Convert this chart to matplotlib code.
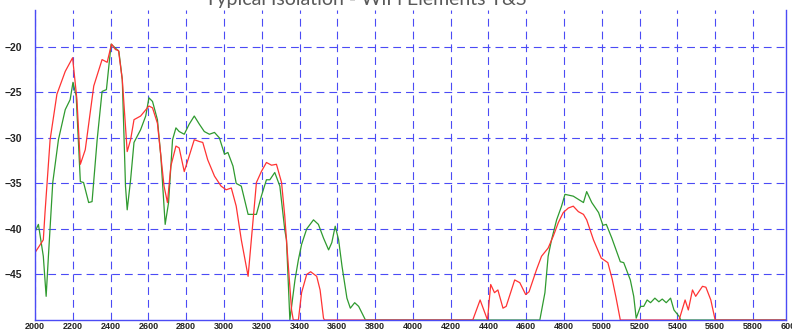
import numpy as np
import matplotlib.pyplot as plt

# isolation curves (MHz, dB)
red_freq = [2000, 2044, 2053, 2080, 2116, 2160, 2199, 2222, 2240, 2266,
            2311, 2355, 2382, 2405, 2426, 2442, 2462, 2488, 2506, 2524,
            2559, 2603, 2622, 2648, 2683, 2701, 2719, 2746, 2763, 2790,
            2816, 2843, 2870, 2888, 2914, 2950, 2985, 3012, 3039, 3065,
            3092, 3128, 3145, 3172, 3198, 3225, 3252, 3278, 3305, 3322,
            3341, 3358, 3367, 3394, 3411, 3438, 3459, 3491, 3509, 3527,
            3532, 4317, 4356, 4395, 4412, 4432, 4450, 4477, 4494, 4539,
            4566, 4597, 4615, 4654, 4681, 4716, 4743, 4770, 4796, 4823,
            4849, 4876, 4903, 4920, 4956, 4997, 5032, 5055, 5075, 5098,
            5409, 5441, 5458, 5480, 5497, 5533, 5551, 5577, 5600, 6000]
red_db = [-42.6, -41.2, -38.2, -30.2, -25.2, -22.7, -21.2, -25.8, -32.9, -31.3,
          -24.3, -21.4, -21.7, -19.7, -20.3, -20.4, -23.6, -31.5, -30.2, -28.0,
          -27.6, -26.5, -26.7, -28.4, -35.3, -37.1, -33.1, -30.9, -31.1, -33.7,
          -32.0, -30.2, -30.4, -30.5, -32.4, -34.2, -35.3, -35.7, -35.5, -37.5,
          -41.2, -45.2, -41.2, -34.9, -33.7, -32.7, -33.0, -32.9, -34.9, -38.6,
          -44.1, -48.9, -50, -50, -47.0, -45.0, -44.7, -45.2, -46.7, -49.8,
          -50, -50, -47.8, -50, -46.1, -47.0, -46.7, -48.7, -48.5, -45.6,
          -45.9, -47.2, -46.9, -44.5, -43.0, -42.1, -40.8, -39.3, -38.2, -37.7,
          -37.5, -38.1, -38.4, -39.0, -41.2, -43.2, -43.7, -45.5, -47.5, -50,
          -50, -47.8, -48.9, -46.7, -47.4, -46.3, -46.4, -47.8, -50, -50]

green_freq = [2000, 2018, 2044, 2059, 2071, 2094, 2124, 2160, 2186, 2201,
              2218, 2240, 2257, 2284, 2302, 2329, 2355, 2378, 2403, 2444,
              2462, 2479, 2488, 2506, 2524, 2559, 2586, 2603, 2622, 2648,
              2666, 2689, 2707, 2728, 2746, 2763, 2790, 2816, 2843, 2870,
              2896, 2923, 2950, 2976, 3003, 3021, 3048, 3065, 3092, 3128,
              3172, 3198, 3225, 3243, 3269, 3296, 3322, 3331, 3349, 3376,
              3394, 3411, 3438, 3474, 3500, 3527, 3554, 3571, 3589, 3607,
              3625, 3651, 3669, 3692, 3713, 3749, 4672, 4699, 4716, 4734,
              4761, 4787, 4805, 4849, 4903, 4920, 4947, 4983, 5006, 5024,
              5053, 5098, 5116, 5151, 5169, 5182, 5205, 5222, 5240, 5258,
              5281, 5302, 5320, 5341, 5364, 5382, 5409, 5418, 6000]
green_db = [-40.3, -39.5, -43.0, -47.4, -43.0, -34.9, -30.2, -26.9, -25.8, -23.9,
            -25.4, -34.8, -34.9, -37.1, -37.0, -30.2, -24.9, -24.7, -19.7, -20.5,
            -23.6, -35.3, -37.9, -34.6, -30.5, -29.1, -27.6, -25.6, -26.0, -28.0,
            -32.0, -39.5, -37.1, -30.2, -28.9, -29.3, -29.6, -28.5, -27.6, -28.5,
            -29.3, -29.6, -29.4, -30.0, -31.8, -31.6, -33.1, -35.0, -35.3, -38.4,
            -38.4, -36.4, -34.6, -34.6, -33.8, -35.3, -40.1, -41.2, -50, -45.6,
            -43.4, -41.7, -40.0, -39.0, -39.5, -41.0, -42.3, -41.5, -39.7, -41.2,
            -44.1, -47.6, -48.7, -48.1, -48.5, -50, -50, -47.0, -43.0, -41.2,
            -39.0, -37.5, -36.2, -36.4, -37.1, -35.9, -37.1, -38.2, -39.6, -39.5,
            -41.0, -43.6, -43.7, -45.6, -47.4, -49.8, -48.5, -48.5, -47.8, -48.1,
            -47.6, -48.0, -47.7, -48.1, -47.6, -48.9, -49.6, -50, -50]

x_ticks = list(range(2000, 6000, 200))
y_ticks = [-45, -40, -35, -30, -25, -20]
title = "Typical Isolation - WiFi Elements T&S"

grid_blue = "#4b4bf5"
label_font = dict(fontweight="bold", family="Liberation Sans", color="#222222")

fig = plt.figure(figsize=(7.92, 3.33), dpi=100)
ax = fig.add_axes([35 / 792, 1 - 320 / 333, (786 - 35) / 792, (320 - 9.5) / 333])

ax.plot(green_freq, green_db, color="#2f9a2f", lw=0.9)
ax.plot(red_freq, red_db, color="#ff3333", lw=0.9)

ax.set_xlim(2000, 5975)
ax.set_ylim(-50, -15.9)
ax.set_xticks(x_ticks)
ax.set_yticks(y_ticks)
ax.tick_params(axis="x", length=0, labelsize=6.5, pad=1.5)
ax.tick_params(axis="y", length=0, labelsize=7.5, pad=9)
for lab in ax.get_xticklabels() + ax.get_yticklabels():
    lab.set(**label_font)
# last label sits just past the right edge, cut off as in the original
ax.text(6000, -0.005, "6000", transform=ax.get_xaxis_transform(),
        ha="center", va="top", fontsize=6.5, clip_on=False, **label_font)

ax.grid(True, color=grid_blue, ls=(0, (7, 4.5)), lw=0.8)
ax.spines["top"].set_visible(False)
for s in ["left", "right", "bottom"]:
    ax.spines[s].set_color(grid_blue)
    ax.spines[s].set_linewidth(1)

fig.text(366 / 792, 1 - 5.5 / 333, title, ha="center", va="baseline",
         fontsize=14, color="#595959", family="Lato")

fig.savefig("out.png", dpi=100)
